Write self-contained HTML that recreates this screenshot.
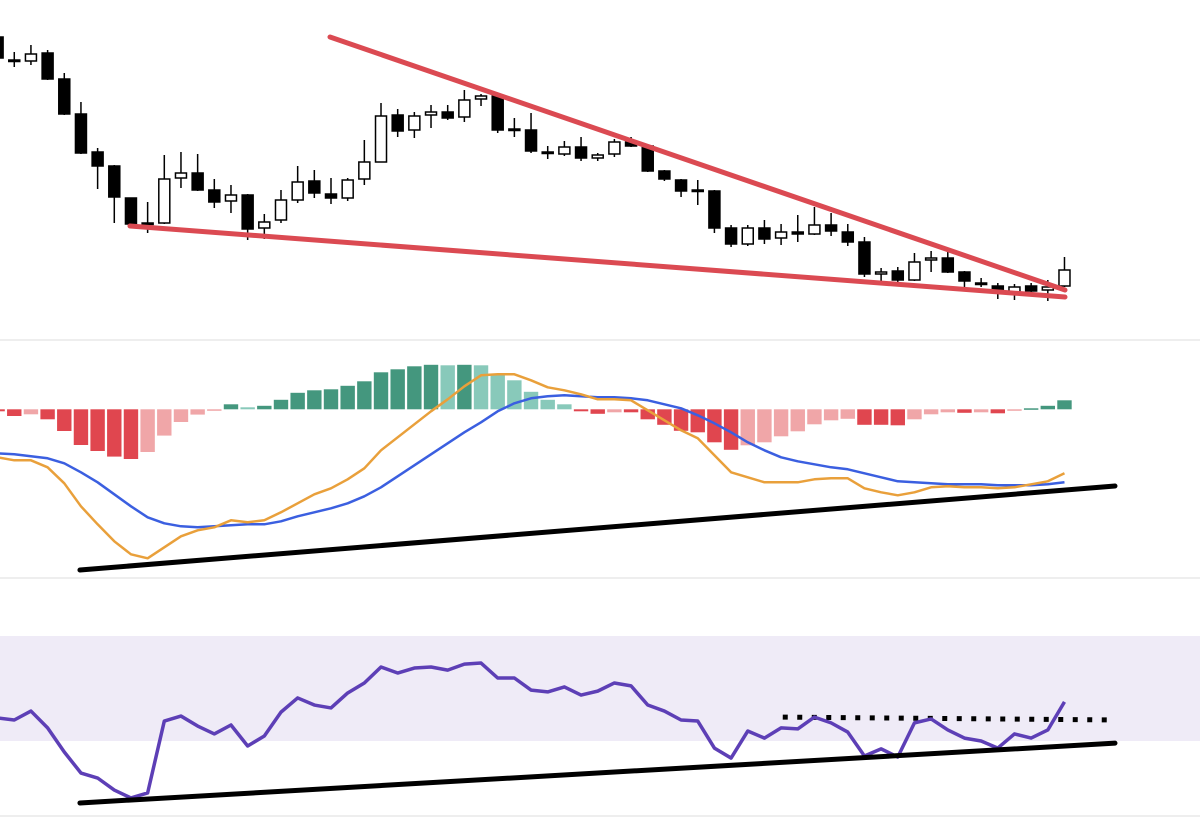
<!DOCTYPE html>
<html><head><meta charset="utf-8"><style>
html,body{margin:0;padding:0;background:#fff;width:1200px;height:817px;overflow:hidden;font-family:"Liberation Sans",sans-serif}
svg{display:block}
</style></head><body>
<svg id="chart" width="1200" height="817" viewBox="0 0 1200 817" xmlns="http://www.w3.org/2000/svg">
<g id="seps"></g>
<g id="candles"></g>
<g id="macd"></g>
<g id="rsi"></g>
</svg>
<script>
const opens=[36.3,34.0,33.9,34.7,32.1,28.6,24.8,23.4,20.2,17.7,17.7,22.2,22.7,21.0,19.9,20.5,17.2,18.0,20.0,21.9,20.6,20.2,22.1,23.8,28.5,27.0,28.5,28.8,28.3,30.1,30.4,27.1,27.0,24.8,24.6,25.3,24.2,24.6,25.8,25.4,22.9,22.0,21.0,20.9,17.2,15.6,17.2,16.2,16.8,16.6,17.5,16.8,15.8,12.6,12.9,12.0,14.0,14.2,12.8,11.7,11.4,10.8,11.4,11.0,11.4];
const closes=[34.2,34.0,34.6,32.1,28.6,24.7,23.4,20.3,17.6,17.7,22.1,22.7,21.0,19.8,20.5,17.1,17.8,20.0,21.8,20.7,20.2,22.0,23.8,28.4,26.9,28.4,28.8,28.2,30.0,30.4,27.0,27.1,24.9,24.8,25.3,24.2,24.5,25.8,25.4,22.9,22.1,20.9,21.0,17.2,15.6,17.2,16.1,16.8,16.6,17.5,16.9,15.8,12.6,12.8,12.0,13.8,14.2,12.8,11.9,11.7,10.8,11.3,10.9,11.3,13.0];
const highs=[36.5,34.8,35.5,35.0,32.7,29.8,25.2,23.5,20.2,19.8,24.5,24.8,24.6,22.1,21.5,20.6,18.6,21.0,23.4,23.0,22.2,22.2,26.0,29.7,29.1,28.8,29.5,29.5,31.0,30.6,30.6,28.2,28.7,25.4,25.9,26.3,24.7,26.1,26.3,25.6,23.0,22.1,22.0,21.0,17.5,17.5,18.0,17.6,18.5,19.3,18.7,17.6,16.3,13.2,13.3,14.7,14.9,15.2,12.9,12.2,11.7,11.6,11.7,12.0,14.3];
const lows=[34.1,33.3,33.5,32.0,28.5,24.6,21.1,17.7,17.2,16.7,17.6,21.2,20.9,19.2,18.7,16.0,16.1,17.7,19.7,20.2,19.6,19.9,21.5,23.8,26.3,26.2,27.2,28.0,27.8,29.4,26.7,26.3,24.7,24.1,24.4,23.9,23.9,24.3,25.3,22.8,21.9,20.3,19.5,16.7,15.3,15.4,15.6,15.5,15.8,16.5,16.4,15.4,12.3,11.5,11.4,11.9,12.8,12.7,11.2,11.3,10.1,10.0,10.6,9.9,11.3];
const macdLine=[-48,-51,-51,-58,-74,-97,-115,-132,-145,-149,-138,-127,-121,-118,-111,-113,-111,-103,-94,-85,-79,-70,-59,-41,-28,-15,-2,10,23,34,35,35,29,22,19,15,10,10,9,-1,-11,-21,-29,-46,-63,-68,-73,-73,-73,-70,-69,-69,-79,-83,-86,-83,-78,-77,-78,-78,-79,-78,-75,-72,-64];
const signalLine=[-44,-45,-47,-49,-54,-63,-73,-85,-97,-108,-114,-117,-118,-117,-116,-115,-115,-112,-107,-103,-99,-94,-87,-78,-67,-56,-45,-34,-23,-13,-2,6,11,13,14,13,12,12,11,9,5,1,-6,-14,-23,-33,-41,-48,-52,-55,-58,-60,-64,-68,-72,-73,-74,-75,-75,-75,-76,-76,-76,-75,-73];
const histogram=[-2,-6.7,-5,-10,-21.7,-35.7,-41.7,-47.3,-49.7,-42.7,-26.3,-12.7,-5.3,-1.3,5,2,3.5,9.5,16.5,19,20,23.5,28,37,40,43,44.5,44,44.5,44,34,29,17.5,9.5,5,-2,-4.5,-3,-3,-10,-15.5,-21.5,-23,-33,-40.5,-36,-33,-27,-22,-15,-11,-9.5,-15.5,-15.5,-16,-10,-5,-3,-3.5,-3,-4,-1,1,3.5,9];
const rsiValues=[38.8,38.0,41.4,35.0,25.8,17.8,15.9,11.3,8.3,10.2,37.6,39.5,35.7,32.7,36.1,28.1,31.9,41.0,46.4,43.7,42.6,48.3,52.1,58.2,55.9,57.8,58.2,57.0,59.3,59.7,54.0,54.0,49.4,48.7,50.6,47.5,49.0,52.1,51.0,43.7,41.4,38.0,37.6,27.3,23.5,33.8,31.1,35.0,34.6,39.1,36.9,33.4,24.3,27.0,23.9,36.9,38.4,34.2,31.1,30.0,27.3,32.7,31.1,34.2,44.9];
const rsiBand=[30,70];
const priceUpperTrend=[[19.94,36.3],[64.03,11.0]];
const priceLowerTrend=[[7.94,17.4],[64.03,10.3]];
const macdTrend=[[4.94,-160.7],[67.03,-76.7]];
const rsiTrend=[[4.94,6.4],[67.03,29.2]];
const rsiLevel=[[47.1,39.1],[67.03,38.0]];

const NS="http://www.w3.org/2000/svg";
const xS=i=>-2.4+16.67*i;
const yP=p=>400-10*p;
const yM=v=>409.3-v;
const yR=r=>688.5-(r-50)*2.625;
function mk(tag,attrs,parent){const e=document.createElementNS(NS,tag);for(const k in attrs)e.setAttribute(k,attrs[k]);parent.appendChild(e);return e;}

const seps=document.getElementById('seps');
[340,578,816].forEach(y=>{
  const l=mk('line',{x1:0,x2:1200,y1:y,y2:y,stroke:'#dcdcdc','stroke-width':1},seps);
  
  
});

// candles
const cg=document.getElementById('candles');
opens.forEach((o,i)=>{
  const c=closes[i],x=xS(i);
  const g=mk('g',{},cg);
  
  
  mk('line',{x1:x,x2:x,y1:yP(highs[i]),y2:yP(lows[i]),stroke:'#000','stroke-width':1.5},g);
  const top=yP(Math.max(o,c)),bot=yP(Math.min(o,c));
  const h=Math.max(bot-top,1.5);
  mk('rect',{x:x-5.5,y:top,width:11,height:h,fill:c<o?'#000':'#fff',stroke:'#000','stroke-width':1.5},g);
});
function trend(pts,xf,yf,color,w,parent,name,dash){
  const l=mk('line',{x1:xf(pts[0][0]),y1:yf(pts[0][1]),x2:xf(pts[1][0]),y2:yf(pts[1][1]),stroke:color,'stroke-width':w,'stroke-linecap':dash?'butt':'round'},parent);
  if(dash)l.setAttribute('stroke-dasharray',dash);
  
  
}
trend(priceUpperTrend,xS,yP,'#db4a52',5,cg,'upper-trendline');
trend(priceLowerTrend,xS,yP,'#db4a52',5,cg,'lower-trendline');

// macd
const mg=document.getElementById('macd');
histogram.forEach((v,i)=>{
  const prev=i>0?histogram[i-1]:0;
  let col;
  if(v>=0) col=v>prev?'#44977e':'#88c9ba';
  else col=v<=prev?'#e0464f':'#f0a6a8';
  const r=mk('rect',{x:xS(i)-7.2,y:Math.min(yM(v),yM(0)),width:14.4,height:Math.max(Math.abs(yM(v)-yM(0)),1.5),fill:col},mg);
  
  
});
function poly(arr,yf,color,w,parent,name){
  const p=mk('polyline',{points:arr.map((v,i)=>xS(i)+','+yf(v)).join(' '),fill:'none',stroke:color,'stroke-width':w,'stroke-linejoin':'round'},parent);
  
  
}
poly(signalLine,yM,'#3b5fe0',2.5,mg,'signal-line');
poly(macdLine,yM,'#e9a03b',2.5,mg,'macd-line');
trend(macdTrend,xS,yM,'#000',5,mg,'macd-trendline');

// rsi
const rg=document.getElementById('rsi');
const band=mk('rect',{x:0,y:yR(rsiBand[1]),width:1200,height:yR(rsiBand[0])-yR(rsiBand[1]),fill:'#efebf7'},rg);


trend(rsiLevel,xS,yR,'#000',5,rg,'rsi-resistance-dotted','5 9.5');
poly(rsiValues,yR,'#5d3fb6',3.5,rg,'rsi-line');
trend(rsiTrend,xS,yR,'#000',5,rg,'rsi-trendline');
</script>
</body></html>
